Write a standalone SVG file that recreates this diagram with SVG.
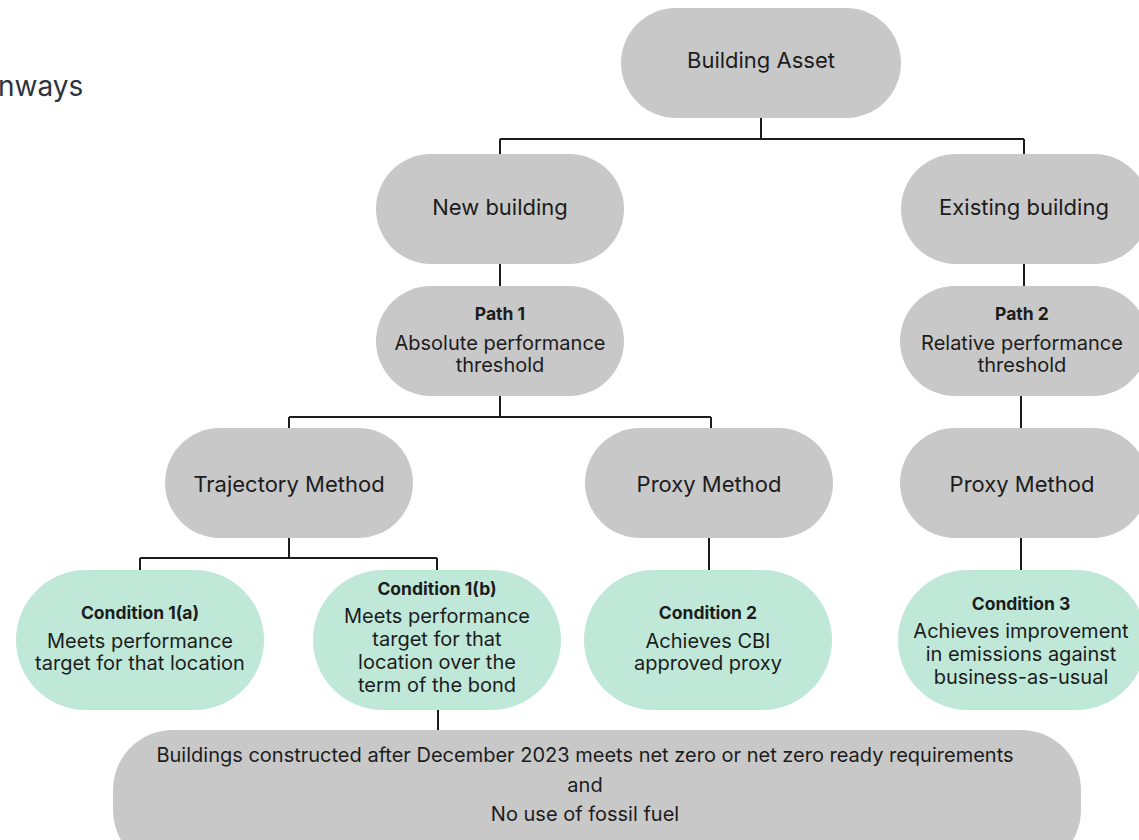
<svg xmlns="http://www.w3.org/2000/svg" width="1139" height="840" viewBox="0 0 1139 840">
<style>
.g{fill:#c8c8c8}
.c{fill:#bfe8d9}
text{font-family:Inter,"Liberation Sans",sans-serif;fill:#1c1c1c;text-anchor:middle}
.t{font-size:22px}
.s{font-size:20px}
.b{font-size:17.5px;font-weight:700}
.ln{stroke:#1c1c1c;stroke-width:2;fill:none}
</style>
<rect width="1139" height="840" fill="#ffffff"/>
<text x="-2" y="96" style="font-size:28px;fill:#2d3340;text-anchor:start">nways</text>
<g id="connectors">
<path class="ln" d="M761 118V139M500 139H1024M500 139V154M1024 139V154"/>
<path class="ln" d="M500 264V286"/>
<path class="ln" d="M1024 264V286"/>
<path class="ln" d="M500 396V417M289 417H711M289 417V428M711 417V428"/>
<path class="ln" d="M1021 396V428"/>
<path class="ln" d="M289 538V558M140 558H437M140 558V570M437 558V570"/>
<path class="ln" d="M709 538V570"/>
<path class="ln" d="M1021 538V570"/>
<path class="ln" d="M438 710V730"/>
</g>
<g id="building-asset"><rect class="g" x="621" y="8" width="280" height="110" rx="55"/><text class="t" x="761" y="68">Building Asset</text></g>
<g id="new-building"><rect class="g" x="376" y="154" width="248" height="110" rx="55"/><text class="t" x="500" y="215">New building</text></g>
<g id="existing-building"><rect class="g" x="901" y="154" width="248" height="110" rx="55"/><text class="t" x="1024" y="215">Existing building</text></g>
<g id="path1"><rect class="g" x="376" y="286" width="248" height="110" rx="55"/><text class="b" x="500" y="320">Path 1</text><text class="s" x="500" y="350">Absolute performance</text><text class="s" x="500" y="372">threshold</text></g>
<g id="path2"><rect class="g" x="900" y="286" width="248" height="110" rx="55"/><text class="b" x="1022" y="320">Path 2</text><text class="s" x="1022" y="350">Relative performance</text><text class="s" x="1022" y="372">threshold</text></g>
<g id="trajectory"><rect class="g" x="165" y="428" width="248" height="110" rx="55"/><text class="t" x="289" y="492">Trajectory Method</text></g>
<g id="proxy1"><rect class="g" x="585" y="428" width="248" height="110" rx="55"/><text class="t" x="709" y="492">Proxy Method</text></g>
<g id="proxy2"><rect class="g" x="900" y="428" width="248" height="110" rx="55"/><text class="t" x="1022" y="492">Proxy Method</text></g>
<g id="cond1a"><rect class="c" x="16" y="570" width="248" height="140" rx="70"/><text class="b" x="140" y="619">Condition 1(a)</text><text class="s" x="140" y="648">Meets performance</text><text class="s" x="140" y="670">target for that location</text></g>
<g id="cond1b"><rect class="c" x="313" y="570" width="248" height="140" rx="70"/><text class="b" x="437" y="595">Condition 1(b)</text><text class="s" x="437" y="623">Meets performance</text><text class="s" x="437" y="646">target for that</text><text class="s" x="437" y="669">location over the</text><text class="s" x="437" y="692">term of the bond</text></g>
<g id="cond2"><rect class="c" x="584" y="570" width="248" height="140" rx="70"/><text class="b" x="708" y="619">Condition 2</text><text class="s" x="708" y="648">Achieves CBI</text><text class="s" x="708" y="670">approved proxy</text></g>
<g id="cond3"><rect class="c" x="898" y="570" width="248" height="140" rx="70"/><text class="b" x="1021" y="610">Condition 3</text><text class="s" x="1021" y="638">Achieves improvement</text><text class="s" x="1021" y="661">in emissions against</text><text class="s" x="1021" y="684">business-as-usual</text></g>
<g id="requirements"><rect class="g" x="113" y="730" width="968" height="140" rx="60"/><text class="s" x="585" y="762">Buildings constructed after December 2023 meets net zero or net zero ready requirements</text><text class="s" x="585" y="792">and</text><text class="s" x="585" y="821">No use of fossil fuel</text></g>
</svg>
